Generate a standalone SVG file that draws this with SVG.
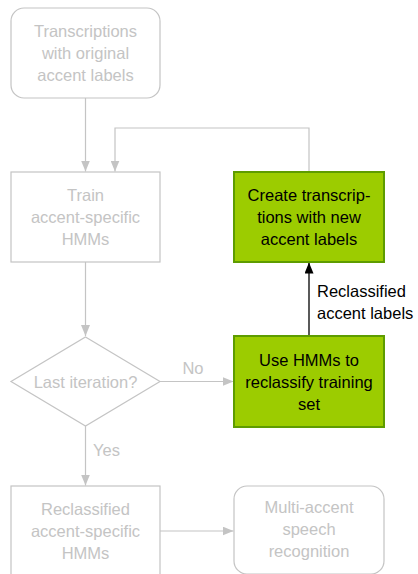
<svg xmlns="http://www.w3.org/2000/svg" width="418" height="574" viewBox="0 0 418 574">
  <style>
    text { font-family: "Liberation Sans", Arial, sans-serif; font-size: 16.5px; text-anchor: middle; }
    .dim { fill: none; stroke: #c4c4c4; stroke-width: 1.2; }
    .dimtxt { fill: #c4c4c4; }
    .act { fill: #9ccc00; stroke: #5e9c00; stroke-width: 2; }
    .acttxt { fill: #000000; }
    .edge { fill: none; stroke: #c4c4c4; stroke-width: 1.2; }
    .edge-on { fill: none; stroke: #000000; stroke-width: 1.3; }
    .lbl { text-anchor: start; }
  </style>
  <defs>
    <marker id="arrGray" viewBox="0 0 11 9" refX="11" refY="4.5" markerWidth="11" markerHeight="9" markerUnits="userSpaceOnUse" orient="auto">
      <path d="M0,0 L11,4.5 L0,9 Z" fill="#c4c4c4"/>
    </marker>
    <marker id="arrBlack" viewBox="0 0 11 9" refX="11" refY="4.5" markerWidth="11" markerHeight="9" markerUnits="userSpaceOnUse" orient="auto">
      <path d="M0,0 L11,4.5 L0,9 Z" fill="#000000"/>
    </marker>
  </defs>

  <g id="connectors">
    <line class="edge" x1="85.5" y1="98" x2="85.5" y2="171.5" marker-end="url(#arrGray)"/>
    <polyline class="edge" points="309,172 309,128 115,128 115,171.5" marker-end="url(#arrGray)"/>
    <line class="edge" x1="85.5" y1="262" x2="85.5" y2="336" marker-end="url(#arrGray)"/>
    <line class="edge" x1="160" y1="381.5" x2="233.5" y2="381.5" marker-end="url(#arrGray)"/>
    <text class="dimtxt" x="193" y="374">No</text>
    <line class="edge" x1="85.5" y1="426" x2="85.5" y2="485.5" marker-end="url(#arrGray)"/>
    <text class="dimtxt lbl" x="93" y="456">Yes</text>
    <line class="edge" x1="160" y1="531" x2="233.5" y2="531" marker-end="url(#arrGray)"/>
    <line class="edge-on" x1="309" y1="336" x2="309" y2="262.5" marker-end="url(#arrBlack)"/>
    <text class="acttxt lbl" x="317" y="297">Reclassified</text>
    <text class="acttxt lbl" x="317" y="319">accent labels</text>
  </g>

  <g id="orig-transcriptions">
    <rect class="dim" x="11" y="8" width="149" height="90" rx="13"/>
    <text class="dimtxt" x="85.5" y="37">Transcriptions</text>
    <text class="dimtxt" x="85.5" y="59">with original</text>
    <text class="dimtxt" x="85.5" y="81">accent labels</text>
  </g>

  <g id="train-hmms">
    <rect class="dim" x="11" y="172" width="149" height="90"/>
    <text class="dimtxt" x="85.5" y="201">Train</text>
    <text class="dimtxt" x="85.5" y="223">accent-specific</text>
    <text class="dimtxt" x="85.5" y="245">HMMs</text>
  </g>

  <g id="create-transcriptions">
    <rect class="act" x="234" y="172" width="150" height="90"/>
    <text class="acttxt" x="309" y="201">Create transcrip-</text>
    <text class="acttxt" x="309" y="223">tions with new</text>
    <text class="acttxt" x="309" y="245">accent labels</text>
  </g>

  <g id="last-iteration">
    <polygon class="dim" points="85.5,337 160,381.5 85.5,426 11,381.5"/>
    <text class="dimtxt" x="85.5" y="388">Last iteration?</text>
  </g>

  <g id="reclassify">
    <rect class="act" x="234" y="336" width="150" height="91"/>
    <text class="acttxt" x="309" y="366">Use HMMs to</text>
    <text class="acttxt" x="309" y="388">reclassify training</text>
    <text class="acttxt" x="309" y="410">set</text>
  </g>

  <g id="reclassified-hmms">
    <rect class="dim" x="11" y="486" width="149" height="90"/>
    <text class="dimtxt" x="85.5" y="515">Reclassified</text>
    <text class="dimtxt" x="85.5" y="537">accent-specific</text>
    <text class="dimtxt" x="85.5" y="559">HMMs</text>
  </g>

  <g id="multi-accent-asr">
    <rect class="dim" x="234" y="486" width="150" height="88" rx="13"/>
    <text class="dimtxt" x="309" y="513">Multi-accent</text>
    <text class="dimtxt" x="309" y="535">speech</text>
    <text class="dimtxt" x="309" y="557">recognition</text>
  </g>
</svg>
